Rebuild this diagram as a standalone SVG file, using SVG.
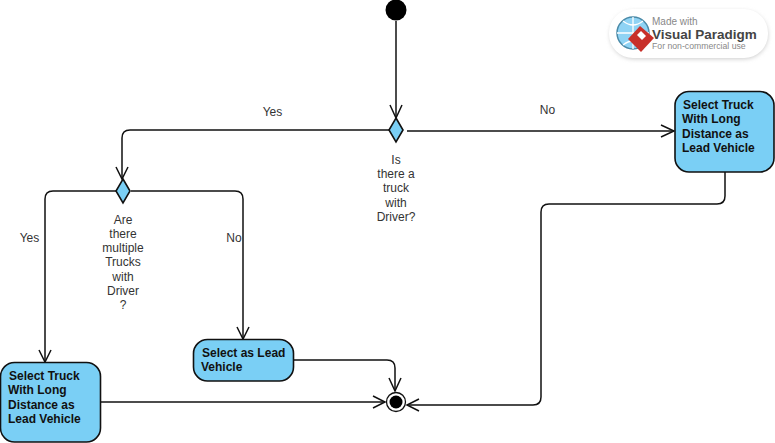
<svg xmlns="http://www.w3.org/2000/svg" width="775" height="443" viewBox="0 0 775 443">
<defs>
<style>
text{font-family:"Liberation Sans",Arial,sans-serif;font-size:12px;fill:#333}
.c{text-anchor:middle}
.b{font-weight:bold;font-size:12px;fill:#111}
.act{fill:#7acff5;stroke:#111;stroke-width:1.6}
.dec{fill:#7acff5;stroke:#111;stroke-width:1.6}
.line{fill:none;stroke:#111;stroke-width:1.5}
.head{fill:none;stroke:#111;stroke-width:1.5}
</style>
<filter id="sh" x="-10%" y="-20%" width="120%" height="140%"><feGaussianBlur stdDeviation="2"/></filter>
</defs>
<rect width="775" height="443" fill="#fff"/>
<g id="connectors">
<path class="line" d="M396 21V118"/><path class="head" d="M390 105L396 118L402 105"/>
<path class="line" d="M389 130H130Q122 130 122 138V179"/><path class="head" d="M116 167L122 179L128 167"/>
<path class="line" d="M407 131H674"/><path class="head" d="M661 125L674 131L661 137"/>
<path class="line" d="M116 191H53Q45 191 45 199V362"/><path class="head" d="M39 350L45 362L51 350"/>
<path class="line" d="M131 191H235Q243 191 243 199V339"/><path class="head" d="M237 327L243 339L249 327"/>
<path class="line" d="M294 360H387Q395 360 395 368V391"/><path class="head" d="M389 378L395 391L401 378"/>
<path class="line" d="M101 402H385"/><path class="head" d="M373 396L385 402L373 408"/>
<path class="line" d="M725 172V196Q725 204 717 204H549Q541 204 541 212V397Q541 405 533 405H407"/><path class="head" d="M419 399L407 405L419 411"/>
</g>
<g id="start"><circle cx="396" cy="10" r="10.5" fill="#000"/></g>
<g id="decision1"><path class="dec" d="M396 118L403 130L396 142L389 130Z"/>
<g class="c"><text x="396" y="164">Is</text><text x="396" y="178">there a</text><text x="396" y="192">truck</text><text x="396" y="207">with</text><text x="396" y="221">Driver?</text></g></g>
<g id="decision2"><path class="dec" d="M123 179L130 191L123 203L116 191Z"/>
<g class="c"><text x="123" y="224">Are</text><text x="123" y="238">there</text><text x="123" y="252">multiple</text><text x="123" y="266">Trucks</text><text x="123" y="281">with</text><text x="123" y="295">Driver</text><text x="123" y="309">?</text></g></g>
<g id="labels"><text class="c" x="272.500" y="116">Yes</text><text class="c" x="547.500" y="114">No</text><text class="c" x="29.500" y="242">Yes</text><text class="c" x="234" y="242">No</text></g>
<g id="act-right"><rect class="act" x="675" y="91.500" width="99" height="80.500" rx="14"/>
<text class="b" x="683" y="109">Select Truck</text><text class="b" x="682" y="123">With Long</text><text class="b" x="682" y="138">Distance as</text><text class="b" x="682" y="152">Lead Vehicle</text></g>
<g id="act-left"><rect class="act" x="0.500" y="362.500" width="100" height="79.500" rx="14"/>
<text class="b" x="9" y="380">Select Truck</text><text class="b" x="8" y="394">With Long</text><text class="b" x="8" y="409">Distance as</text><text class="b" x="8" y="423">Lead Vehicle</text></g>
<g id="act-mid"><rect class="act" x="193.500" y="339.500" width="100" height="41.500" rx="14"/>
<text class="b" x="202" y="357">Select as Lead</text><text class="b" x="201" y="371">Vehicle</text></g>
<g id="final"><circle cx="396" cy="402" r="9.500" fill="#fff" stroke="#111" stroke-width="1.300"/><circle cx="396" cy="402" r="6.500" fill="#000"/></g>
<g id="badge">
<rect x="610" y="11" width="158" height="48" rx="24" fill="#ccc" filter="url(#sh)"/>
<rect x="609" y="9" width="159" height="49" rx="24" fill="#fff"/>
<circle cx="633" cy="33" r="16" fill="#8fd3f4" stroke="#4a8aa8" stroke-width="1.500"/>
<path d="M617 33H649M633 17V49M623 21Q633 29 643 21M623 45Q633 37 643 45" fill="none" stroke="#fff" stroke-width="1.300"/>
<path d="M640 26L654 38L641 52L628 39Z" fill="#c8302a"/><path d="M637 35L641 31L646 36L642 40Z" fill="#fff"/>
<text x="652" y="25" style="font-size:10px;fill:#888">Made with</text>
<text x="652" y="39" style="font-size:13.500px;font-weight:bold;fill:#444">Visual Paradigm</text>
<text x="652" y="49" style="font-size:8.700px;fill:#888">For non-commercial use</text>
</g>
</svg>
